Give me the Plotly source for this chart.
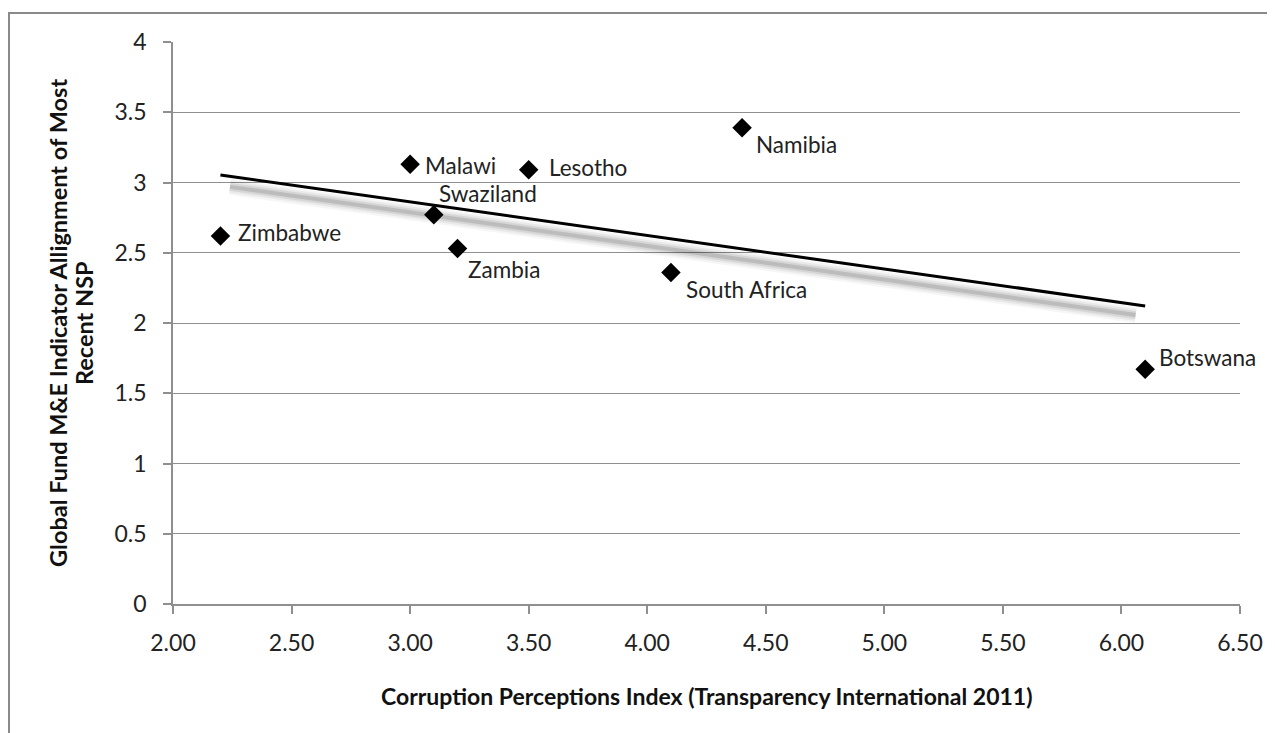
import numpy as np
import plotly.graph_objects as go

countries = ["Zimbabwe", "Malawi", "Swaziland", "Zambia", "Lesotho", "Namibia", "South Africa", "Botswana"]
cpi = [2.2, 3.0, 3.1, 3.2, 3.5, 4.4, 4.1, 6.1]
alignment = [2.62, 3.13, 2.77, 2.53, 3.09, 3.39, 2.36, 1.67]
x_ticks = [2.0, 2.5, 3.0, 3.5, 4.0, 4.5, 5.0, 5.5, 6.0, 6.5]
y_ticks = [0, 0.5, 1, 1.5, 2, 2.5, 3, 3.5, 4]

# label offsets (screen px: right, up) -- styling only
label_dx = [16, 13, 3, 8, 18, 12, 13, 12]
label_dy = [3, -1, 21, -21, 2, -17, -17, 12]

FONT = "Lato"
TXT = "#222222"

slope, intercept = np.polyfit(cpi, alignment, 1)
tx = np.array([min(cpi), max(cpi)])
ty = slope * tx + intercept

fig = go.Figure()

# soft shadow under the trend line
sx = np.array([tx[0] + 0.04, tx[1] - 0.04])
sy = slope * sx + intercept - 0.075
for w, a in [(16, 0.035), (12, 0.05), (8, 0.08), (4, 0.12)]:
    fig.add_trace(go.Scatter(x=sx, y=sy, mode="lines",
                             line=dict(color=f"rgba(0,0,0,{a})", width=w),
                             hoverinfo="skip", showlegend=False))

fig.add_trace(go.Scatter(x=tx, y=ty, mode="lines",
                         line=dict(color="black", width=3),
                         hoverinfo="skip", showlegend=False))

fig.add_trace(go.Scatter(x=cpi, y=alignment, mode="markers",
                         marker=dict(symbol="diamond", size=15, color="black"),
                         showlegend=False))

for c, x, y, dx, dy in zip(countries, cpi, alignment, label_dx, label_dy):
    fig.add_annotation(x=x, y=y, text=c, showarrow=False,
                       xanchor="left", yanchor="middle",
                       xshift=dx, yshift=dy,
                       font=dict(family=FONT, size=22.5, color=TXT))

axis_grey = "#8f8f8f"
fig.update_xaxes(range=[2.0, 6.5], tickvals=x_ticks,
                 ticktext=[f"{v:.2f}" for v in x_ticks],
                 showgrid=False, zeroline=False,
                 showline=True, linecolor=axis_grey, linewidth=1.5,
                 ticks="outside", ticklen=8, tickcolor=axis_grey, tickwidth=1.5,
                 ticklabelstandoff=10,
                 tickfont=dict(family=FONT, size=23, color=TXT))
fig.update_yaxes(range=[0, 4], tickvals=y_ticks,
                 ticktext=[f"{v:g}" for v in y_ticks],
                 showgrid=True, gridcolor=axis_grey, gridwidth=1.2,
                 zeroline=False,
                 showline=True, linecolor=axis_grey, linewidth=1.5,
                 ticks="outside", ticklen=8, tickcolor=axis_grey, tickwidth=1.5,
                 ticklabelstandoff=12,
                 tickfont=dict(family=FONT, size=23, color=TXT))

fig.add_annotation(text="<b>Corruption Perceptions Index (Transparency International 2011)</b>",
                   xref="paper", yref="paper", x=0.5, y=-0.164, showarrow=False,
                   font=dict(family=FONT, size=23, color="#111"),
                   xanchor="center", yanchor="middle")
fig.add_annotation(text="<b>Global Fund M&E Indicator Allignment of Most</b>",
                   xref="paper", yref="paper", x=-0.1078, y=0.5, showarrow=False,
                   textangle=-90,
                   font=dict(family=FONT, size=23.5, color="#111"),
                   xanchor="center", yanchor="middle")
fig.add_annotation(text="<b>Recent NSP</b>",
                   xref="paper", yref="paper", x=-0.0834, y=0.5, showarrow=False,
                   textangle=-90,
                   font=dict(family=FONT, size=23.5, color="#111"),
                   xanchor="center", yanchor="middle")

# outer frame (cropped on right and bottom)
fig.add_shape(type="rect", xref="paper", yref="paper",
              x0=-0.1537, x1=1.2, y0=-0.4, y1=1.0516,
              line=dict(color="#8a8a8a", width=2), layer="below")

fig.update_layout(width=1267, height=725,
                  margin=dict(l=165, r=35, t=34, b=129),
                  paper_bgcolor="white", plot_bgcolor="white")

fig.write_html("out.html")
